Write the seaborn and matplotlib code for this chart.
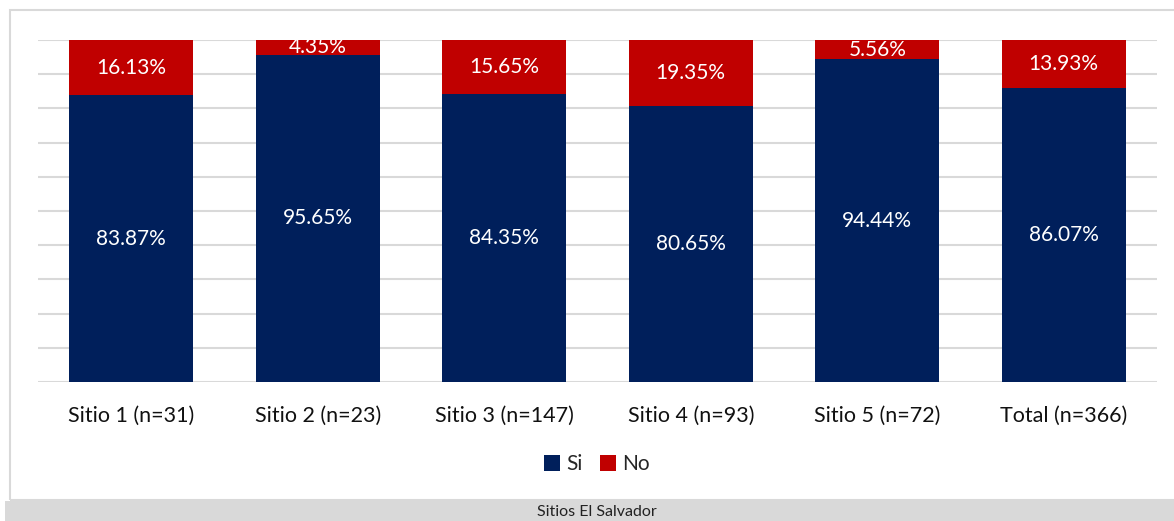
import matplotlib
matplotlib.use("Agg")
import matplotlib.pyplot as plt
import seaborn as sns
import pandas as pd
from matplotlib.patches import Rectangle

# Data
sitios = ["Sitio 1 (n=31)", "Sitio 2 (n=23)", "Sitio 3 (n=147)",
          "Sitio 4 (n=93)", "Sitio 5 (n=72)", "Total (n=366)"]
si = [83.87, 95.65, 84.35, 80.65, 94.44, 86.07]
no = [16.13, 4.35, 15.65, 19.35, 5.56, 13.93]

navy = "#001F5B"
red = "#C00000"

df = pd.DataFrame({"Sitio": sitios, "Si": si, "No": no})
df["Total"] = df["Si"] + df["No"]

sns.set_theme(style="white")
plt.rcParams["font.family"] = ["Lato", "DejaVu Sans"]

W, H = 1174, 521
fig = plt.figure(figsize=(W / 100, H / 100), dpi=100)

# outer chart frame and bottom grey band
fig.patches.append(Rectangle((10 / W, 1 - 500 / H), 1.2, (500 - 10) / H,
                             transform=fig.transFigure, fill=False,
                             edgecolor="#d9d9d9", lw=1.5))
fig.patches.append(Rectangle((5 / W, 0), 1.0, (521 - 501) / H,
                             transform=fig.transFigure, facecolor="#d9d9d9",
                             edgecolor="none"))
fig.text(597 / W, 1 - 512 / H, "Sitios El Salvador", ha="center", va="center",
         fontsize=11.5, color="#222222")

ax = fig.add_axes([38 / W, 1 - 382 / H, (1157 - 38) / W, (382 - 40) / H])

# stacked bars: full bar in red, Si on top in navy
sns.barplot(data=df, x="Sitio", y="Total", color=red, width=0.665,
            saturation=1, ax=ax, label="No", zorder=2, linewidth=0)
sns.barplot(data=df, x="Sitio", y="Si", color=navy, width=0.665,
            saturation=1, ax=ax, label="Si", zorder=3, linewidth=0)

ax.set_ylim(0, 100)
ax.set_xlim(-0.5, 5.5)
ax.set_yticks(range(0, 101, 10))
ax.set_yticklabels([])
ax.yaxis.grid(True, color="#d9d9d9", lw=1.5, zorder=0)
ax.set_axisbelow(True)
for s in ax.spines.values():
    s.set_visible(False)
ax.set_xlabel("")
ax.set_ylabel("")
ax.tick_params(axis="x", labelsize=15.5, pad=17, length=0, colors="#111111")
ax.tick_params(axis="y", length=0)

for i, (s, n) in enumerate(zip(si, no)):
    ax.text(i, s / 2, f"{s:.2f}%", ha="center", va="center",
            color="white", fontsize=15, zorder=4)
    ax.text(i, s + n / 2, f"{n:.2f}%", ha="center", va="center",
            color="white", fontsize=15, zorder=4)

handles, labels = ax.get_legend_handles_labels()
order = [labels.index("Si"), labels.index("No")]
fig.legend([handles[k] for k in order], ["Si", "No"],
           loc="center", bbox_to_anchor=(597 / W, 1 - 464 / H), ncol=2,
           frameon=False, fontsize=15, handlelength=0.8, handleheight=0.8,
           handletextpad=0.3, columnspacing=0.8)
if ax.get_legend() is not None:
    ax.get_legend().remove()

fig.savefig("out.png", dpi=100)
